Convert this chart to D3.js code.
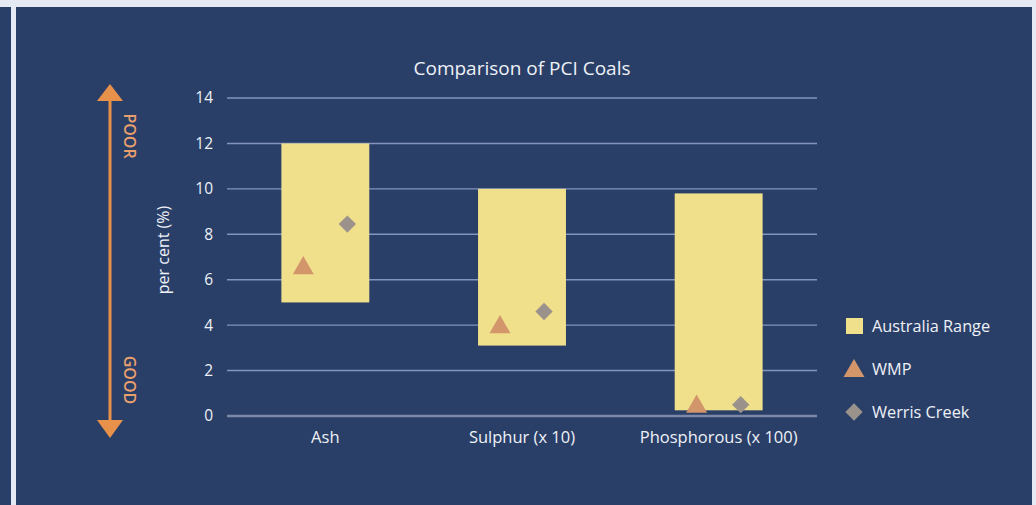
<!DOCTYPE html>
<html>
<head>
<meta charset="utf-8">
<script src="https://cdn.jsdelivr.net/npm/d3@7"></script>
<style>
  html, body { margin: 0; padding: 0; background: #e4e9f3; }
  svg { display: block; font-family: "Open Sans", "Noto Sans", sans-serif; }
</style>
</head>
<body>
<svg id="chart" width="1036" height="505"></svg>
<script>
// data
const categories = ["Ash", "Sulphur (x 10)", "Phosphorous (x 100)"];
const rangeLow = [5, 3.1, 0.25];
const rangeHigh = [12, 10, 9.8];
const wmp = [6.6, 4.0, 0.5];
const werrisCreek = [8.45, 4.6, 0.5];
const yTicks = [0, 2, 4, 6, 8, 10, 12, 14];
const legendItems = ["Australia Range", "WMP", "Werris Creek"];

const colors = {
  panel: "#2a3f68",
  grid: "#8394bd",
  base: "#7c88a6",
  text: "#eef1f7",
  bar: "#f0e08c",
  wmp: "#d3956a",
  werris: "#9a928b",
  arrow: "#e8914b",
  arrowText: "#e9a06c"
};

const svg = d3.select("#chart");

// page frame
svg.append("rect").attr("x", 0).attr("y", 7).attr("width", 11).attr("height", 498).attr("fill", colors.panel);
svg.append("rect").attr("x", 16).attr("y", 7).attr("width", 1016).attr("height", 498).attr("fill", colors.panel);

const x = d3.scaleBand().domain(categories).range([227, 817]).padding(0);
const y = d3.scaleLinear().domain([0, 14]).range([416, 98]);

const barW = x.bandwidth() * 0.447;
const off = x.bandwidth() * 0.112;

// title
svg.append("text")
  .attr("x", 522).attr("y", 75)
  .attr("text-anchor", "middle")
  .attr("fill", colors.text)
  .style("font-size", "19px")
  .text("Comparison of PCI Coals");

// grid lines + y labels
const g = svg.append("g");
g.selectAll("line.grid")
  .data(yTicks)
  .join("line")
  .attr("class", "grid")
  .attr("x1", 227).attr("x2", 817)
  .attr("y1", d => y(d)).attr("y2", d => y(d))
  .attr("stroke", d => d === 0 ? colors.base : colors.grid)
  .attr("stroke-width", d => d === 0 ? 2.5 : 1.4);

g.selectAll("text.ytick")
  .data(yTicks)
  .join("text")
  .attr("class", "ytick")
  .attr("x", 213)
  .attr("y", d => y(d))
  .attr("dy", "0.35em")
  .attr("text-anchor", "end")
  .attr("fill", colors.text)
  .style("font-size", "15.5px")
  .text(d => d);

// y axis title
svg.append("text")
  .attr("transform", "translate(169,250) rotate(-90)")
  .attr("text-anchor", "middle")
  .attr("fill", colors.text)
  .style("font-size", "16px")
  .text("per cent (%)");

// range bars
svg.selectAll("rect.bar")
  .data(categories)
  .join("rect")
  .attr("class", "bar")
  .attr("x", d => x(d) + x.bandwidth() / 2 - barW / 2)
  .attr("width", barW)
  .attr("y", (d, i) => y(rangeHigh[i]))
  .attr("height", (d, i) => y(rangeLow[i]) - y(rangeHigh[i]))
  .attr("fill", colors.bar);

// markers
const tri = d3.symbol().type(d3.symbolTriangle).size(190);
const dia = d3.symbol().type(d3.symbolSquare).size(150);

svg.selectAll("path.wmp")
  .data(categories)
  .join("path")
  .attr("class", "wmp")
  .attr("d", tri)
  .attr("transform", (d, i) => `translate(${x(d) + x.bandwidth() / 2 - off},${y(wmp[i]) + 2})`)
  .attr("fill", colors.wmp);

svg.selectAll("path.werris")
  .data(categories)
  .join("path")
  .attr("class", "werris")
  .attr("d", dia)
  .attr("transform", (d, i) => `translate(${x(d) + x.bandwidth() / 2 + off},${y(werrisCreek[i])}) rotate(45)`)
  .attr("fill", colors.werris);

// category labels
svg.selectAll("text.cat")
  .data(categories)
  .join("text")
  .attr("class", "cat")
  .attr("x", d => x(d) + x.bandwidth() / 2)
  .attr("y", 443)
  .attr("text-anchor", "middle")
  .attr("fill", colors.text)
  .style("font-size", "16.5px")
  .text(d => d);

// legend
const leg = svg.append("g").attr("transform", "translate(854,0)");
const legY = [326, 369, 412];
leg.append("rect").attr("x", -8).attr("y", legY[0] - 8).attr("width", 17).attr("height", 16).attr("fill", colors.bar);
leg.append("path").attr("d", tri).attr("transform", `translate(0,${legY[1] + 2})`).attr("fill", colors.wmp);
leg.append("path").attr("d", dia).attr("transform", `translate(0,${legY[2]}) rotate(45)`).attr("fill", colors.werris);
leg.selectAll("text")
  .data(legendItems)
  .join("text")
  .attr("x", 18)
  .attr("y", (d, i) => legY[i])
  .attr("dy", "0.35em")
  .attr("fill", colors.text)
  .style("font-size", "16.3px")
  .text(d => d);

// POOR / GOOD arrow
svg.append("line")
  .attr("x1", 110).attr("x2", 110)
  .attr("y1", 100).attr("y2", 421)
  .attr("stroke", colors.arrow).attr("stroke-width", 3);
svg.append("path")
  .attr("d", "M110,84 L123,101 L97,101 Z")
  .attr("fill", colors.arrow);
svg.append("path")
  .attr("d", "M110,438 L123,420 L97,420 Z")
  .attr("fill", colors.arrow);

[["POOR", 136], ["GOOD", 380]].forEach(([t, cy]) => {
  svg.append("text")
    .attr("transform", `translate(130,${cy}) rotate(90)`)
    .attr("text-anchor", "middle")
    .attr("dy", "0.35em")
    .attr("fill", colors.arrowText)
    .style("font-size", "16px")
    .style("font-weight", "600")
    .text(t);
});
</script>
</body>
</html>
